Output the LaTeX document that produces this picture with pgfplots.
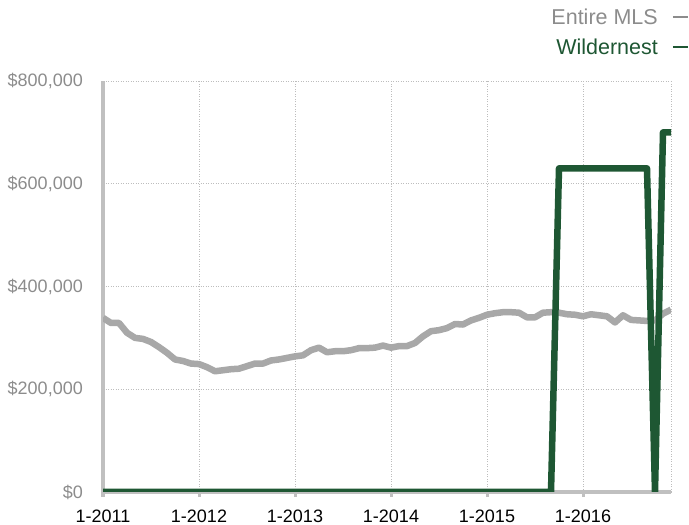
\documentclass[border=0pt]{standalone}
\usepackage{fontspec}
\setmainfont{Liberation Sans}
\usepackage{pgfplots}
\pgfplotsset{compat=1.18}
\definecolor{mlsgrey}{HTML}{A8A8A8}
\definecolor{wgreen}{HTML}{1E5733}
\definecolor{labgrey}{HTML}{8C8C8C}
\definecolor{axgrey}{HTML}{C0C0C0}
\definecolor{gridgrey}{HTML}{BDBDBD}
\begin{document}
\begin{tikzpicture}
\useasboundingbox (0,0) rectangle (689bp,525bp);
\begin{axis}[
  at={(103bp,33bp)}, anchor=south west,
  scale only axis, width=568bp, height=411bp,
  xmin=0, xmax=71, ymin=0, ymax=800000,
  axis x line*=bottom, axis y line*=left,
  axis line style={-, draw=axgrey, line width=3bp},
  xtick={0,12,24,36,48,60},
  xticklabels={1-2011,1-2012,1-2013,1-2014,1-2015,1-2016},
  extra x ticks={71}, extra x tick labels={},
  extra x tick style={major tick length=0pt, grid=major},
  ytick={0,200000,400000,600000,800000},
  yticklabels={{\$0},{\$200,000},{\$400,000},{\$600,000},{\$800,000}},
  scaled y ticks=false,
  grid=major,
  major grid style={draw=gridgrey, line width=0.7bp, dash pattern=on 1bp off 1.5bp},
  tick align=outside,
  xtick style={draw=axgrey, line width=3bp},
  major tick length=5bp,
  ytick style={draw=none},
  xticklabel style={font=\fontsize{18bp}{22bp}\selectfont, text=black, anchor=north, inner sep=0pt, yshift=-13bp},
  yticklabel style={font=\fontsize{18bp}{22bp}\selectfont, text=labgrey, anchor=east, inner sep=0pt, xshift=-15bp},
  clip mode=individual,
]
\addplot[mlsgrey, line width=6.5bp, line join=round] coordinates {
(0,339000) (1,329000) (2,329000) (3,310000) (4,300000) (5,298000) (6,292000) (7,282000)
(8,271000) (9,258000) (10,255000) (11,250000) (12,249000) (13,243000) (14,235000) (15,237000)
(16,239000) (17,240000) (18,245000) (19,250000) (20,250000) (21,256000) (22,258000) (23,261000)
(24,264000) (25,266000) (26,276000) (27,281000) (28,272000) (29,274000) (30,274000) (31,276000)
(32,280000) (33,280000) (34,281000) (35,285000) (36,281000) (37,284000) (38,284000) (39,290000)
(40,303000) (41,313000) (42,315000) (43,319000) (44,327000) (45,326000) (46,334000) (47,339000)
(48,345000) (49,348000) (50,350000) (51,350000) (52,349000) (53,340000) (54,340000) (55,349000)
(56,350000) (57,349000) (58,346000) (59,345000) (60,342000) (61,346000) (62,344000) (63,342000)
(64,330000) (65,344000) (66,335000) (67,334000) (68,333000) (69,334000) (70,347000) (71,355000)
};
\addplot[wgreen, line width=6.5bp, line join=round] coordinates {
(0,0) (1,0) (2,0) (3,0) (4,0) (5,0) (6,0) (7,0) (8,0) (9,0) (10,0) (11,0)
(12,0) (13,0) (14,0) (15,0) (16,0) (17,0) (18,0) (19,0) (20,0) (21,0) (22,0) (23,0)
(24,0) (25,0) (26,0) (27,0) (28,0) (29,0) (30,0) (31,0) (32,0) (33,0) (34,0) (35,0)
(36,0) (37,0) (38,0) (39,0) (40,0) (41,0) (42,0) (43,0) (44,0) (45,0) (46,0) (47,0)
(48,0) (49,0) (50,0) (51,0) (52,0) (53,0) (54,0) (55,0) (56,0)
(57,630000) (58,630000) (59,630000) (60,630000) (61,630000) (62,630000) (63,630000)
(64,630000) (65,630000) (66,630000) (67,630000) (68,630000)
(69,0) (70,700000) (71,700000)
};
\end{axis}
\node[anchor=base east, inner sep=0pt, text=labgrey, font=\fontsize{21.5bp}{25bp}\selectfont]
  at (688bp,500bp) {Entire MLS\hspace{15bp}\textcolor{labgrey}{\rule[7bp]{15bp}{1.6bp}}};
\node[anchor=base east, inner sep=0pt, text=wgreen, font=\fontsize{21.5bp}{25bp}\selectfont]
  at (688bp,470bp) {Wildernest\hspace{15bp}\textcolor{wgreen}{\rule[7bp]{15bp}{1.6bp}}};
\end{tikzpicture}
\end{document}
